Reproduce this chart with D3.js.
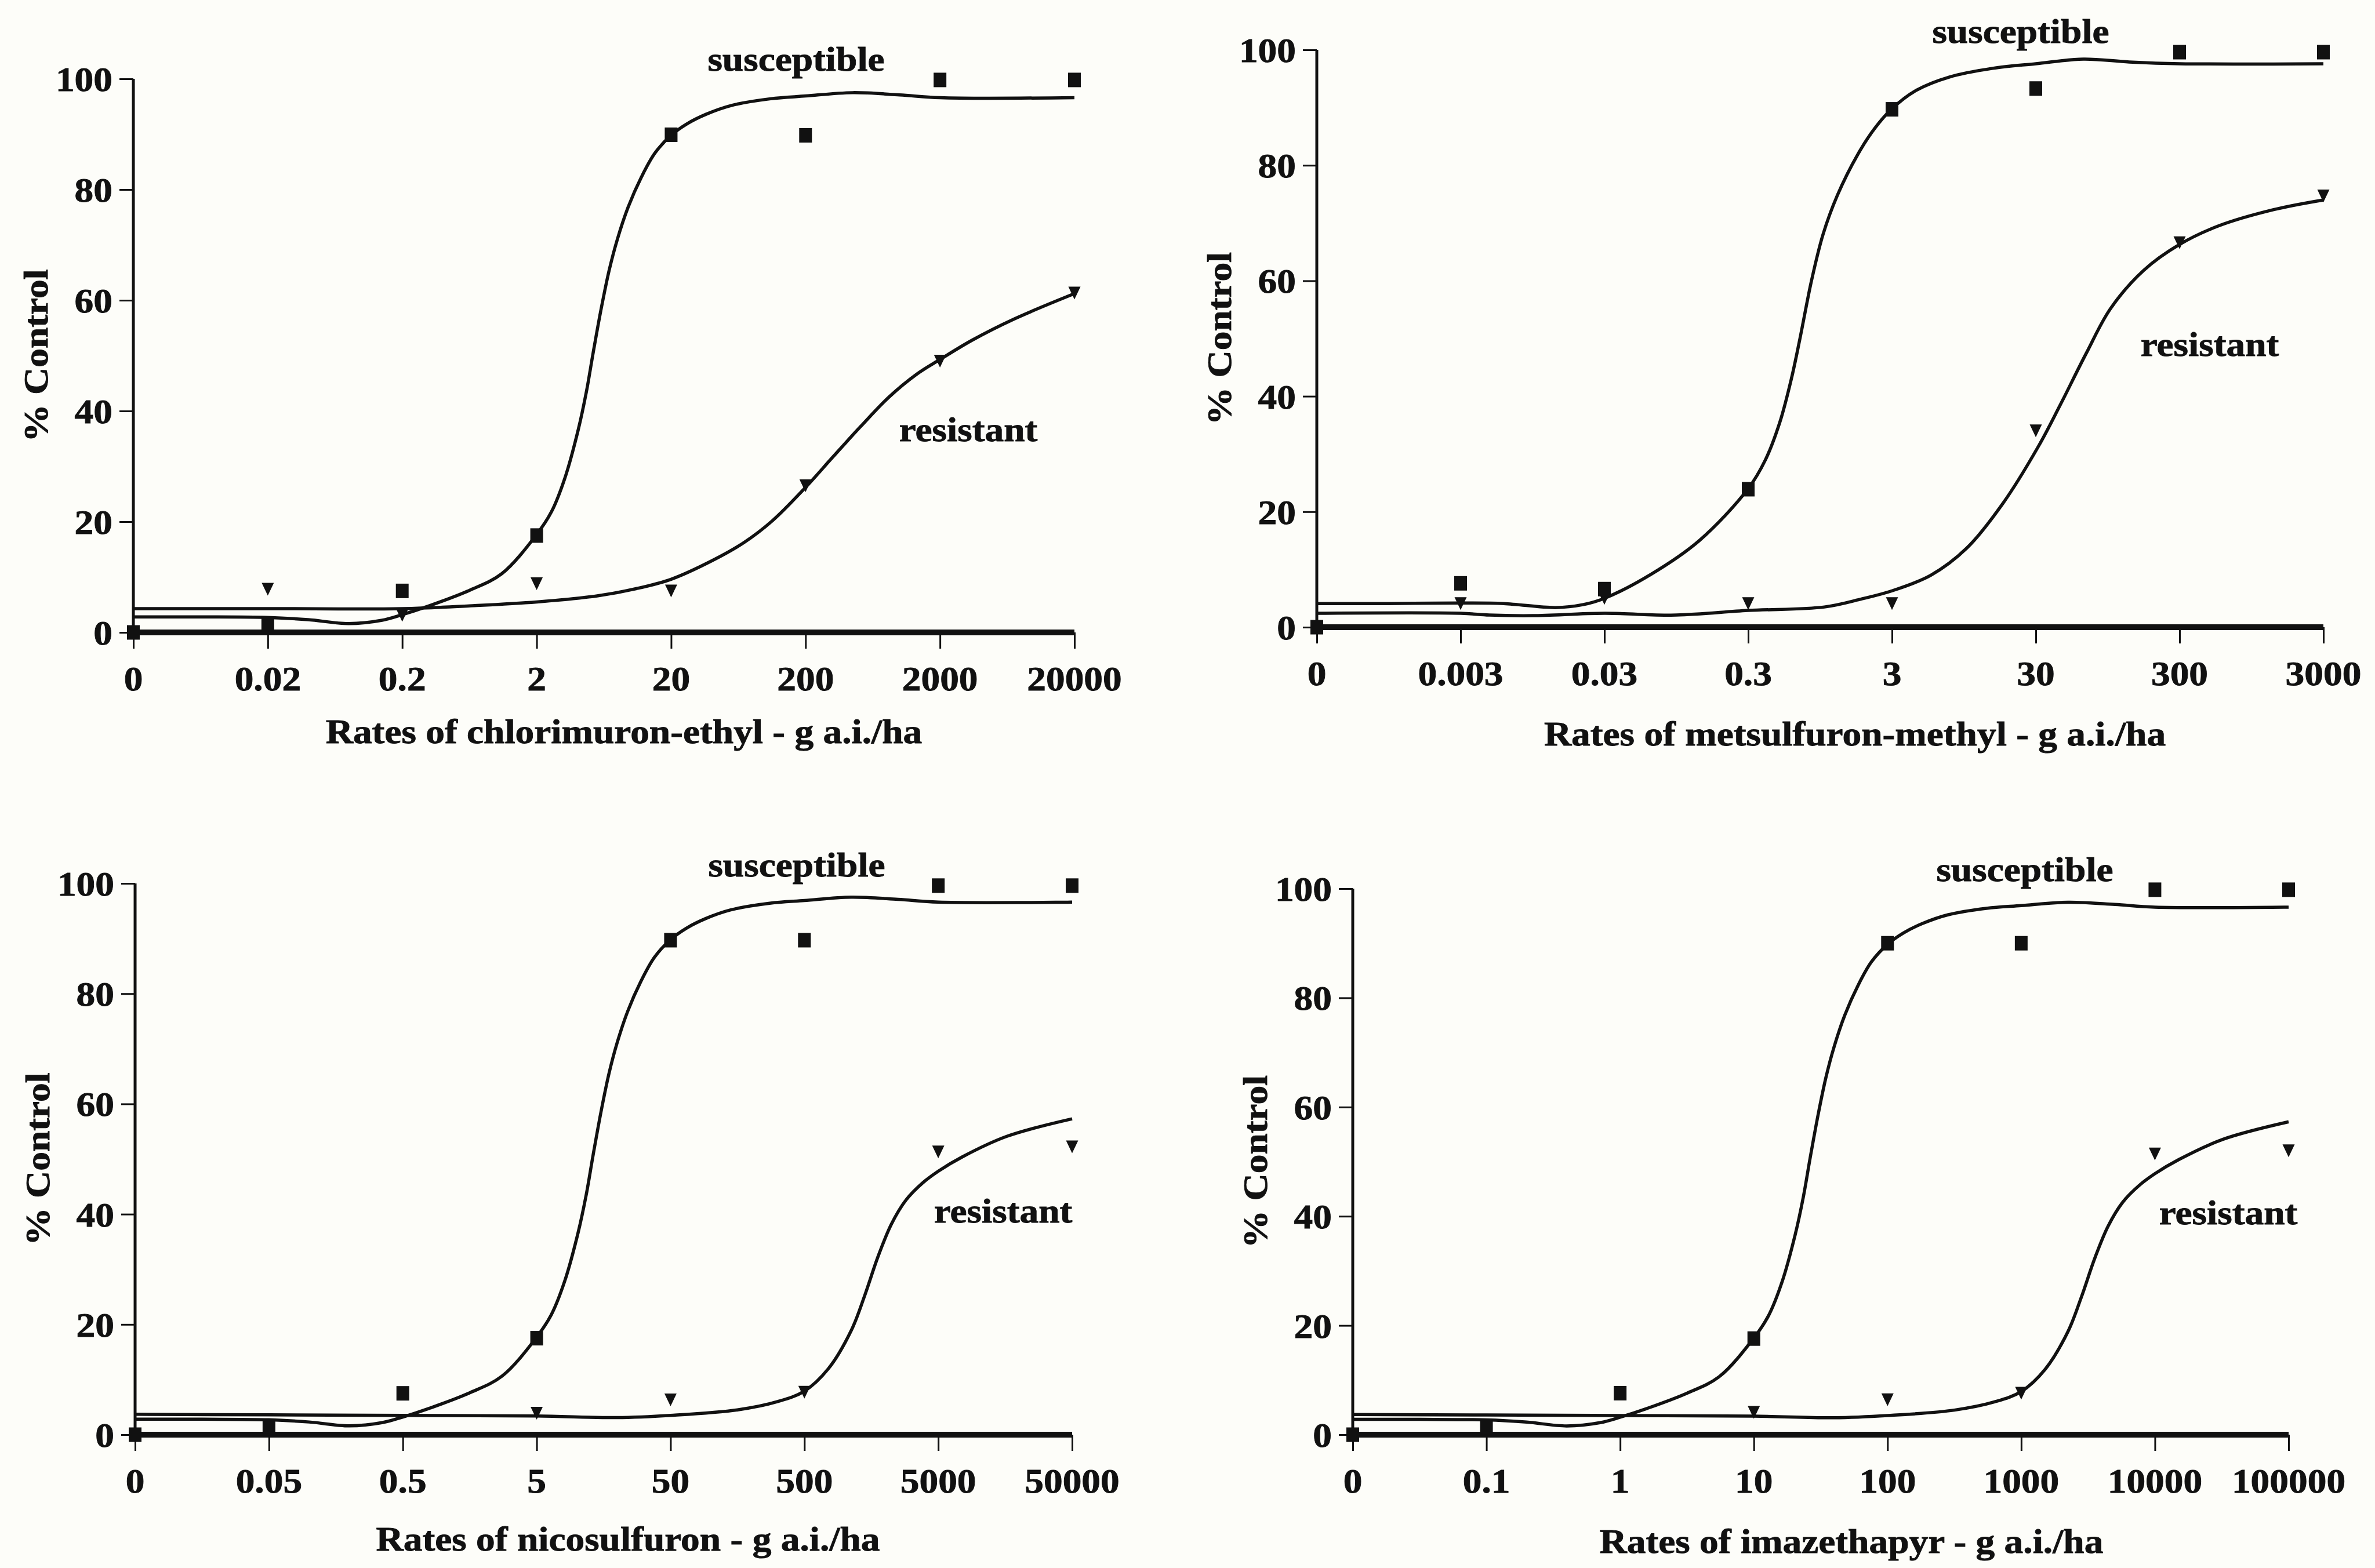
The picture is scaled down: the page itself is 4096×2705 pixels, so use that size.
<!DOCTYPE html>
<html>
<head>
<meta charset="utf-8">
<script src="https://cdn.jsdelivr.net/npm/d3@7"></script>
<style>
  html, body { margin: 0; padding: 0; background: #fdfdf9; }
  svg { display: block; }
  text { font-family: "Liberation Serif", "Times New Roman", serif; font-weight: bold; fill: #111; }
</style>
</head>
<body>
<svg id="chart" width="4096" height="2705"></svg>
<script>
// ---------------- DATA ----------------
const yTicks = [0, 20, 40, 60, 80, 100];

const chlorRates = ["0", "0.02", "0.2", "2", "20", "200", "2000", "20000"];
const metsRates  = ["0", "0.003", "0.03", "0.3", "3", "30", "300", "3000"];
const nicoRates  = ["0", "0.05", "0.5", "5", "50", "500", "5000", "50000"];
const imazRates  = ["0", "0.1", "1", "10", "100", "1000", "10000", "100000"];

// observed % control at each rate (null = not visible)
const chlorSusceptible = [0, 1.6, 7.5, 17.5, 89.9, 89.8, 99.8, 99.8];
const chlorResistant   = [0, 7.8, 3.1, 8.8, 7.5, 26.5, 49.0, 61.3];
const metsSusceptible  = [0, 7.6, 6.6, 23.9, 89.7, 93.3, 99.6, 99.6];
const metsResistant    = [0, 4.1, 5.0, 4.1, 4.1, 34.0, 66.6, 74.7];
const nicoSusceptible  = [0, 1.5, 7.5, 17.5, 89.7, 89.7, 99.6, 99.6];
const nicoResistant    = [0, null, null, 3.9, 6.3, 7.7, 51.3, 52.2];
const imazSusceptible  = [0, 1.4, 7.6, 17.6, 90.0, 90.0, 99.8, 99.8];
const imazResistant    = [0, null, null, 4.1, 6.4, 7.6, 51.4, 52.0];

// fitted curves: [rate position, % control]
const chlorSusceptibleFit = [[0,2.8],[0.5,2.8],[1,2.7],[1.3,2.3],[1.6,1.6],[1.85,2.2],[2,3.2],[2.2,4.8],[2.5,7.6],[2.74,10.6],[3,17.7],[3.11,21.8],[3.21,27.9],[3.31,36.7],[3.37,43.5],[3.42,50.5],[3.48,58.5],[3.54,65.5],[3.6,71],[3.68,76.8],[3.78,82.3],[3.88,86.6],[4,89.8],[4.12,91.9],[4.26,93.6],[4.45,95.2],[4.74,96.4],[5,96.9],[5.35,97.5],[5.7,97.1],[6,96.6],[7,96.6]];
const chlorResistantFit   = [[0,4.3],[1,4.3],[2,4.3],[2.5,4.8],[3,5.5],[3.45,6.6],[3.74,7.9],[4,9.6],[4.3,12.9],[4.54,16.2],[4.75,20.1],[5,26.2],[5.2,31.6],[5.41,37.2],[5.62,42.5],[5.83,46.7],[6,49.3],[6.24,52.8],[6.55,56.6],[7,61.2]];
const metsSusceptibleFit  = [[0,4.1],[0.5,4.1],[1,4.2],[1.3,4.1],[1.66,3.4],[1.85,3.9],[2,5],[2.32,9.1],[2.66,15],[3,24],[3.12,29],[3.22,35.5],[3.3,43],[3.36,50],[3.44,60],[3.52,68],[3.62,74.8],[3.76,81.8],[3.88,86.4],[4,89.8],[4.17,93.0],[4.4,95.3],[4.7,96.8],[5,97.6],[5.33,98.4],[5.65,97.9],[6,97.6],[7,97.6]];
const metsResistantFit    = [[0,2.4],[1,2.4],[1.2,2.1],[1.5,2.0],[2,2.4],[2.5,2.1],[3,2.9],[3.53,3.5],[3.79,4.9],[4,6.3],[4.27,9],[4.52,13.7],[4.77,21.4],[5.02,31.4],[5.17,38.5],[5.35,47.4],[5.52,55.2],[5.75,61.8],[6,66.3],[6.27,69.5],[6.65,72.3],[7,74]];
const nicoSusceptibleFit  = [[0,2.8],[0.5,2.8],[1,2.7],[1.3,2.3],[1.6,1.6],[1.85,2.2],[2,3.2],[2.2,4.8],[2.5,7.6],[2.74,10.6],[3,17.7],[3.11,21.8],[3.21,27.9],[3.31,36.7],[3.37,43.5],[3.42,50.5],[3.48,58.5],[3.54,65.5],[3.6,71],[3.68,76.8],[3.78,82.3],[3.88,86.6],[4,89.8],[4.12,91.9],[4.26,93.6],[4.45,95.2],[4.74,96.4],[5,96.9],[5.35,97.5],[5.7,97.1],[6,96.6],[7,96.6]];
const nicoResistantFit    = [[0,3.7],[1,3.6],[2,3.5],[3,3.4],[3.6,3.1],[4,3.5],[4.5,4.5],[4.8,6],[5,7.9],[5.18,12],[5.35,18.9],[5.45,25.2],[5.55,32.3],[5.65,38.2],[5.76,42.6],[5.88,45.6],[6,47.8],[6.18,50.4],[6.51,54.1],[7,57.3]];
const imazSusceptibleFit  = [[0,2.8],[0.5,2.8],[1,2.7],[1.3,2.3],[1.6,1.6],[1.85,2.2],[2,3.2],[2.2,4.8],[2.5,7.6],[2.74,10.6],[3,17.7],[3.11,21.8],[3.21,27.9],[3.31,36.7],[3.37,43.5],[3.42,50.5],[3.48,58.5],[3.54,65.5],[3.6,71],[3.68,76.8],[3.78,82.3],[3.88,86.6],[4,89.8],[4.12,91.9],[4.26,93.6],[4.45,95.2],[4.74,96.4],[5,96.9],[5.35,97.5],[5.7,97.1],[6,96.6],[7,96.6]];
const imazResistantFit    = [[0,3.7],[1,3.6],[2,3.5],[3,3.4],[3.6,3.1],[4,3.5],[4.5,4.5],[4.8,6],[5,7.9],[5.18,12],[5.35,18.9],[5.45,25.2],[5.55,32.3],[5.65,38.2],[5.76,42.6],[5.88,45.6],[6,47.8],[6.18,50.4],[6.51,54.1],[7,57.3]];

const xTitles = [
  "Rates of chlorimuron-ethyl - g a.i./ha",
  "Rates of metsulfuron-methyl - g a.i./ha",
  "Rates of nicosulfuron - g a.i./ha",
  "Rates of imazethapyr - g a.i./ha"
];
const yTitle = "% Control";
const seriesNames = ["susceptible", "resistant"];

// ---------------- LAYOUT ----------------
const panels = [
  { x0: 230, x1: 1853, y0: 1091, y1: 136, rates: chlorRates, sus: chlorSusceptible, res: chlorResistant,
    susFit: chlorSusceptibleFit, resFit: chlorResistantFit, title: xTitles[0],
    titleX: 1076, titleY: 1261, susL: [1373, 101], resL: [1670, 740] },
  { x0: 2271, x1: 4007, y0: 1082, y1: 86, rates: metsRates, sus: metsSusceptible, res: metsResistant,
    susFit: metsSusceptibleFit, resFit: metsResistantFit, title: xTitles[1],
    titleX: 3199, titleY: 1265, susL: [3485, 53], resL: [3811, 593] },
  { x0: 233, x1: 1849, y0: 2475, y1: 1524, rates: nicoRates, sus: nicoSusceptible, res: nicoResistant,
    susFit: nicoSusceptibleFit, resFit: nicoResistantFit, title: xTitles[2],
    titleX: 1083, titleY: 2654, susL: [1374, 1491], resL: [1730, 2088] },
  { x0: 2333, x1: 3947, y0: 2475, y1: 1533, rates: imazRates, sus: imazSusceptible, res: imazResistant,
    susFit: imazSusceptibleFit, resFit: imazResistantFit, title: xTitles[3],
    titleX: 3193, titleY: 2658, susL: [3492, 1499], resL: [3843, 2091] }
];

const FS = 60;       // font size
const SX = 1.09;     // horizontal glyph stretch of the scanned type
const INK = "#111";

const svg = d3.select("#chart");

function label(g, str, x, y, anchor, rot) {
  g.append("text")
    .attr("transform", `translate(${x},${y}) rotate(${rot || 0}) scale(${SX},1)`)
    .attr("text-anchor", anchor)
    .attr("dy", "0.35em")
    .attr("font-size", FS)
    .attr("font-family", "Liberation Serif")
    .attr("stroke", INK).attr("stroke-width", 0.9)
    .text(str);
}

panels.forEach(p => {
  const g = svg.append("g");
  const x = d3.scaleLinear().domain([0, p.rates.length - 1]).range([p.x0, p.x1]);
  const y = d3.scaleLinear().domain([0, 100]).range([p.y0, p.y1]);

  // y axis
  const yAxis = d3.axisLeft(y).tickValues(yTicks).tickSize(24).tickFormat("");
  const ya = g.append("g").attr("transform", `translate(${p.x0},0)`).call(yAxis);
  ya.select(".domain").remove();
  ya.selectAll(".tick line").attr("stroke", INK).attr("stroke-width", 3);
  g.append("line").attr("x1", p.x0).attr("x2", p.x0).attr("y1", y(0)).attr("y2", y(100))
    .attr("stroke", INK).attr("stroke-width", 5);
  yTicks.forEach(t => label(g, String(t), p.x0 - 36, y(t), "end"));

  // x axis
  const idx = d3.range(p.rates.length);
  const xAxis = d3.axisBottom(x).tickValues(idx).tickSize(28).tickFormat("");
  const xa = g.append("g").attr("transform", `translate(0,${p.y0})`).call(xAxis);
  xa.select(".domain").remove();
  xa.selectAll(".tick line").attr("stroke", INK).attr("stroke-width", 3);
  g.append("line").attr("x1", p.x0).attr("x2", p.x1).attr("y1", y(0)).attr("y2", y(0))
    .attr("stroke", INK).attr("stroke-width", 10);
  idx.forEach(i => label(g, p.rates[i], x(i), p.y0 + 79, "middle"));

  // titles
  label(g, p.title, p.titleX, p.titleY, "middle");
  label(g, yTitle, p.x0 - 169, (y(0) + y(100)) / 2, "middle", -90);
  label(g, seriesNames[0], p.susL[0], p.susL[1], "middle");
  label(g, seriesNames[1], p.resL[0], p.resL[1], "middle");

  // fitted curves
  const line = d3.line().x(d => x(d[0])).y(d => y(d[1])).curve(d3.curveCatmullRom.alpha(0.5));
  [p.susFit, p.resFit].forEach(f => {
    g.append("path").attr("d", line(f)).attr("fill", "none")
      .attr("stroke", INK).attr("stroke-width", 5.5).attr("stroke-linejoin", "round");
  });

  // resistant markers: downward triangles
  const tw = 21, th = 22;
  g.selectAll(null).data(p.res.map((v, i) => [i, v]).filter(d => d[1] !== null))
    .enter().append("path")
    .attr("d", `M${-tw/2},${-th/2}L${tw/2},${-th/2}L0,${th/2}Z`)
    .attr("transform", d => `translate(${x(d[0])},${y(d[1])})`)
    .attr("fill", INK);

  // susceptible markers: squares
  const sw = 22, sh = 25;
  g.selectAll(null).data(p.sus.map((v, i) => [i, v]).filter(d => d[1] !== null))
    .enter().append("rect")
    .attr("x", d => x(d[0]) - sw / 2).attr("y", d => y(d[1]) - sh / 2)
    .attr("width", sw).attr("height", sh)
    .attr("fill", INK);
});
</script>
</body>
</html>
